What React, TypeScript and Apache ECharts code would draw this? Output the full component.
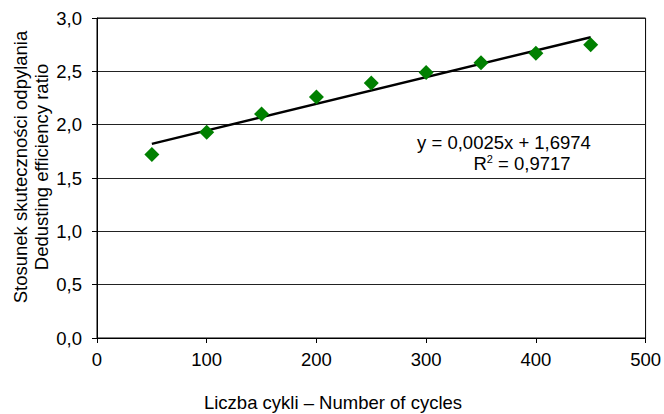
import React, { useEffect, useRef } from "react";
import * as echarts from "echarts";

const cycles = [50, 100, 150, 200, 250, 300, 350, 400, 450];
const ratio = [1.72, 1.93, 2.1, 2.26, 2.39, 2.49, 2.58, 2.67, 2.75];
const trendX = [50, 450];
const trendY = [1.82, 2.82];
const equationText = "y = 0,0025x + 1,6974";
const r2Value = "0,9717";
const xTitle = "Liczba cykli – Number of cycles";
const yTitle1 = "Stosunek skuteczności odpylania";
const yTitle2 = "Dedusting efficiency ratio";

const FONT = "'Liberation Sans', Arial, sans-serif";

export default function App() {
  const ref = useRef<HTMLDivElement>(null);
  useEffect(() => {
    if (!ref.current) return;
    const chart = echarts.init(ref.current, undefined, { renderer: "svg" });
    chart.setOption({
      animation: false,
      backgroundColor: "#fff",
      grid: {
        left: 97,
        right: 15,
        top: 18,
        bottom: 76,
        show: true,
        borderColor: "#000",
        borderWidth: 1,
        backgroundColor: "transparent",
      },
      xAxis: {
        type: "value",
        min: 0,
        max: 500,
        interval: 100,
        axisLine: { show: true, lineStyle: { color: "#000", width: 1 } },
        axisTick: { show: true, inside: false, length: 5, lineStyle: { color: "#000" } },
        axisLabel: { color: "#000", fontSize: 18.5, fontFamily: FONT, margin: 12 },
        splitLine: { show: false },
      },
      yAxis: {
        type: "value",
        min: 0,
        max: 3,
        interval: 0.5,
        axisLine: { show: true, lineStyle: { color: "#000", width: 1 } },
        axisTick: { show: true, inside: false, length: 5, lineStyle: { color: "#000" } },
        axisLabel: {
          color: "#000",
          fontSize: 18.5,
          fontFamily: FONT,
          margin: 15,
          formatter: (v: number) => v.toFixed(1).replace(".", ","),
        },
        splitLine: { show: true, lineStyle: { color: "#222", width: 1 } },
      },
      series: [
        {
          type: "line",
          data: trendX.map((x, i) => [x, trendY[i]]),
          symbol: "none",
          lineStyle: { color: "#000", width: 2.5 },
          z: 3,
        },
        {
          type: "scatter",
          data: cycles.map((x, i) => [x, ratio[i]]),
          symbol: "diamond",
          symbolSize: [15, 15],
          itemStyle: { color: "#008000", opacity: 1 },
          z: 4,
        },
      ],
      graphic: [
        {
          type: "text",
          x: 504,
          y: 142,
          style: {
            text: equationText,
            fontSize: 18.5,
            fontFamily: FONT,
            fill: "#000",
            align: "center",
            verticalAlign: "middle",
            lineHeight: 19,
          },
        },
        {
          type: "text",
          x: 522,
          y: 163,
          style: {
            text: "{n|R}{s|2}{n| = " + r2Value + "}",
            fontSize: 18.5,
            fontFamily: FONT,
            fill: "#000",
            align: "center",
            verticalAlign: "middle",
            rich: {
              n: { fontSize: 18.5, fontFamily: FONT, fill: "#000", verticalAlign: "bottom", lineHeight: 19 },
              s: { fontSize: 11, fontFamily: FONT, fill: "#000", verticalAlign: "top", lineHeight: 19 },
            },
          },
        },
        {
          type: "text",
          x: 333,
          y: 402,
          style: {
            text: xTitle,
            fontSize: 18.5,
            fontFamily: FONT,
            fill: "#000",
            align: "center",
            verticalAlign: "middle",
          },
        },
        {
          type: "text",
          x: 31,
          y: 167,
          rotation: Math.PI / 2,
          style: {
            text: yTitle1 + "\n" + yTitle2,
            fontSize: 18.5,
            fontFamily: FONT,
            fill: "#000",
            align: "center",
            verticalAlign: "middle",
            lineHeight: 21,
          },
        },
      ],
    });
    return () => chart.dispose();
  }, []);
  return (
    <div
      ref={ref}
      style={{ position: "fixed", left: 0, top: 0, width: 664, height: 414, background: "#fff" }}
    />
  );
}
